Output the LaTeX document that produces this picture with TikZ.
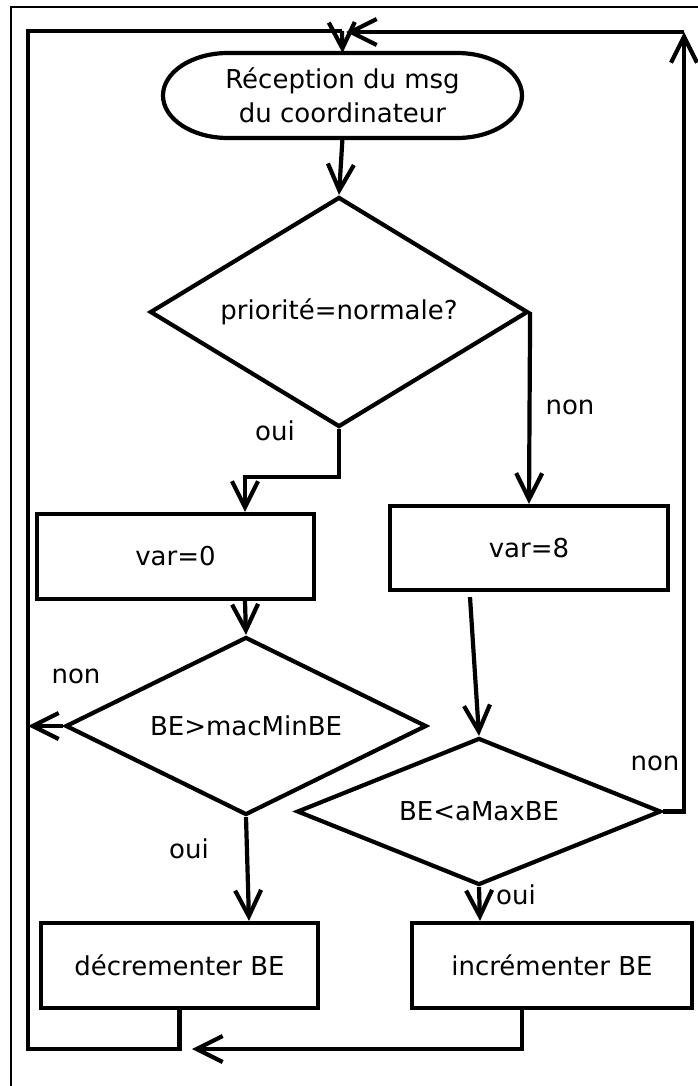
\documentclass[tikz,border=0pt]{standalone}
\usepackage{fontspec}
\setmainfont{DejaVu Sans}
\usetikzlibrary{shapes.geometric,arrows.meta}

\begin{document}
\begin{tikzpicture}[x=1pt,y=-1pt,line width=4.2pt,
        box/.style={rectangle,draw,minimum width=277pt,minimum height=85pt,inner sep=0pt},
        decision/.style={diamond,draw,aspect=2,inner sep=0pt},
        arr/.style={-{Straight Barb[length=26pt,width=26pt]}},
        lbl/.style={inner sep=0pt,anchor=base},
        every node/.style={font=\fontsize{26}{34}\selectfont}]
        \useasboundingbox (0,0) rectangle (698,1086);

        % Draw outer frame
        \draw[line width=2.4pt] (11,1100) -- (11,7) -- (710,7);

        % Draw nodes explicitly
        \node[outer sep=0pt,minimum width=359pt,minimum height=85pt,align=center] (recv) at (342.5,95.5) {Réception du msg\\du coordinateur};
        \node[decision,minimum width=378pt,minimum height=230pt] (prio) at (339,312) {priorité=normale?};
        \node[box] (var0) at (175.5,556.5) {var=0};
        \node[box,minimum width=278pt,minimum height=84pt] (var8) at (529,548) {var=8};
        \node[decision,minimum width=361pt,minimum height=178pt] (minbe) at (246,726) {BE>macMinBE};
        \node[decision,minimum width=364pt,minimum height=147pt] (maxbe) at (479,811.5) {BE<aMaxBE};
        \node[box] (dec) at (179.5,965.5) {décrementer BE};
        \node[box,minimum width=280pt] (inc) at (552,965.5) {incrémenter BE};

        % Draw the start shape round recv
        \draw ([xshift=65pt]recv.north west) -- ([xshift=-65pt]recv.north east)
            arc[start angle=90,end angle=-90,x radius=65pt,y radius=42.5pt]
            -- ([xshift=65pt]recv.south west)
            arc[start angle=270,end angle=90,x radius=65pt,y radius=42.5pt] -- cycle;

        % Draw labels
        \node[lbl] (ouiA) at (275,440) {oui};
        \node[lbl] (nonA) at (570,414) {non};
        \node[lbl] (nonB) at (76,683) {non};
        \node[lbl] (ouiB) at (189,858) {oui};
        \node[lbl] (nonC) at (655,770) {non};
        \node[lbl] (ouiC) at (516,904) {oui};

        % Loop corners
        \coordinate (tl) at (28,31);
        \coordinate (bl) at (28,1049);
        \coordinate (top) at (342,31);
        \coordinate (tr) at (684,32);
        \coordinate (join) at (346,32);
        \coordinate (back) at (28,726);
        \coordinate (bend) at (192,1049);

        % Draw edges explicitly
        \draw[arr] (recv.south) -- (prio.north);
        \draw[arr] (prio.south) -- ++(0,48) -| ([xshift=69.5pt]var0.north);
        \draw[arr] (prio.east) -- (var8.north);
        \draw[arr] ([xshift=69.5pt]var0.south) -- (minbe.north);
        \draw[arr] ([xshift=-59pt,yshift=-5pt]var8.south) -- (maxbe.north);
        \draw[arr] (minbe.west) -- (back);
        \draw[arr] (minbe.south) -- ([xshift=69.5pt]dec.north);
        \draw[arr] (maxbe.south) -- ([xshift=-72pt]inc.north);
        \draw[arr] (maxbe.east) -| (tr);
        \draw[arr] (tr) -- (join);
        \draw (dec.south) |- (bl) -- (tl) -- (top);
        \draw[arr] (top) -- (recv.north);
        \draw[arr] ([xshift=-30pt]inc.south) |- (bend);
\end{tikzpicture}
\end{document}
